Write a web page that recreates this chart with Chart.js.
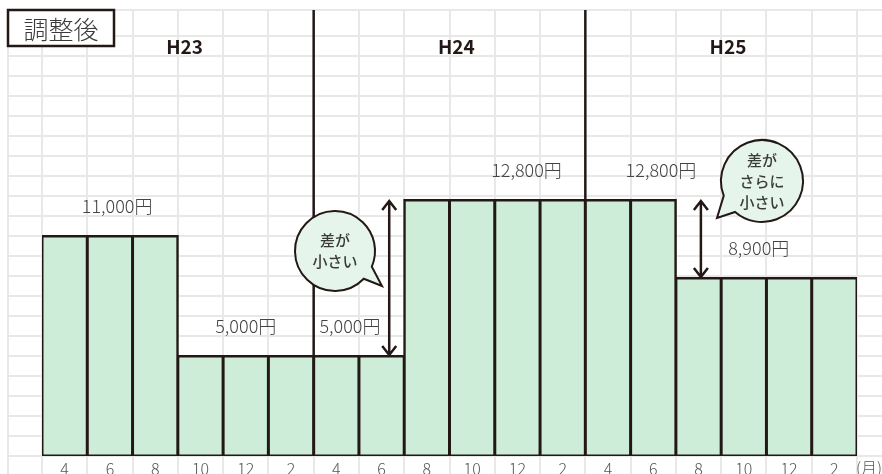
<!DOCTYPE html>
<html>
<head>
<meta charset="utf-8">
<script src="https://cdn.jsdelivr.net/npm/chart.js@4/dist/chart.umd.min.js"></script>
<style>
  html, body { margin: 0; padding: 0; background: #fff; }
  #wrap { width: 882px; height: 474px; }
</style>
</head>
<body>
<div id="wrap"><canvas id="adjustedChart" width="882" height="474"></canvas></div>
<script>
  // ----- data
  const months = ['4', '6', '8', '10', '12', '2', '4', '6', '8', '10', '12', '2', '4', '6', '8', '10', '12', '2'];
  const amounts = [11000, 11000, 11000, 5000, 5000, 5000, 5000, 5000,
    12800, 12800, 12800, 12800, 12800, 12800, 8900, 8900, 8900, 8900];
  const periods = ['H23', 'H24', 'H25'];
  const periodStart = [0, 6, 12];
  const gridStep = 1000;
  const gridMax = 21000;
  const title = '調整後';

  const FONT = '"Noto Sans CJK JP", "Noto Sans", sans-serif';
  const INK = '#231815';
  const TEXT = '#3a3a3a';

  // value labels: category index (fractional) + which amount it shows
  const valueLabels = [
    { at: 1.16, idx: 0 },
    { at: 4.0, idx: 3 },
    { at: 6.3, idx: 7 },
    { at: 10.2, idx: 8 },
    { at: 13.17, idx: 13 },
    { at: 15.33, idx: 14 }
  ];

  function yen(v) {
    return v.toLocaleString('en-US') + '円';
  }

  function bubble(ctx, cx, cy, r, a1, a2, tx, ty, lines, lh) {
    ctx.save();
    ctx.beginPath();
    ctx.arc(cx, cy, r, a1 * Math.PI / 180, a2 * Math.PI / 180);
    ctx.lineTo(tx, ty);
    ctx.closePath();
    ctx.fillStyle = '#e6f5eb';
    ctx.fill();
    ctx.lineWidth = 2;
    ctx.strokeStyle = INK;
    ctx.stroke();
    ctx.fillStyle = TEXT;
    ctx.font = '500 15px ' + FONT;
    ctx.textAlign = 'center';
    ctx.textBaseline = 'middle';
    const y0 = cy - (lines.length - 1) * lh / 2;
    lines.forEach(function(t, i) { ctx.fillText(t, cx, y0 + i * lh); });
    ctx.restore();
  }

  function arrow(ctx, x, y1, y2) {
    ctx.save();
    ctx.strokeStyle = INK;
    ctx.lineWidth = 2.5;
    ctx.beginPath();
    ctx.moveTo(x, y1 + 1);
    ctx.lineTo(x, y2 - 1);
    ctx.moveTo(x - 7, y1 + 10); ctx.lineTo(x, y1 + 1); ctx.lineTo(x + 7, y1 + 10);
    ctx.moveTo(x - 7, y2 - 10); ctx.lineTo(x, y2 - 1); ctx.lineTo(x + 7, y2 - 10);
    ctx.stroke();
    ctx.restore();
  }

  // grid behind the bars, spills outside the plot area like the sheet
  const gridPlugin = {
    id: 'sheetGrid',
    beforeDatasetsDraw(chart) {
      const ctx = chart.ctx;
      const area = chart.chartArea;
      const xs = chart.scales.x;
      const ys = chart.scales.y;
      const w = (area.right - area.left) / months.length;
      const left = area.left - 34;
      ctx.save();
      ctx.strokeStyle = '#e8e8e8';
      ctx.lineWidth = 2;
      ctx.beginPath();
      for (let v = 0; v <= gridMax; v += gridStep) {
        const y = Math.round(ys.getPixelForValue(v));
        ctx.moveTo(left, y); ctx.lineTo(chart.width, y);
      }
      ctx.moveTo(left, area.top); ctx.lineTo(chart.width, area.top);
      ctx.moveTo(left, area.top); ctx.lineTo(left, chart.height);
      for (let i = 0; i <= months.length; i++) {
        const x = Math.round(xs.left + i * w);
        ctx.moveTo(x, area.top); ctx.lineTo(x, chart.height);
      }
      ctx.stroke();
      ctx.restore();
    },
    afterDatasetsDraw(chart) {
      const ctx = chart.ctx;
      const area = chart.chartArea;
      const xs = chart.scales.x;
      const ys = chart.scales.y;
      const w = (area.right - area.left) / months.length;

      // period dividers
      ctx.save();
      ctx.strokeStyle = INK;
      ctx.lineWidth = 2.5;
      ctx.beginPath();
      periodStart.slice(1).forEach(function(s) {
        const x = xs.left + s * w;
        ctx.moveTo(x, area.top); ctx.lineTo(x, ys.getPixelForValue(amounts[s]));
      });
      ctx.stroke();

      // period headings
      ctx.fillStyle = INK;
      ctx.font = 'bold 19px ' + FONT;
      ctx.textAlign = 'center';
      ctx.textBaseline = 'middle';
      periods.forEach(function(p, i) {
        const s = periodStart[i];
        const e = i + 1 < periodStart.length ? periodStart[i + 1] : months.length;
        ctx.fillText(p, xs.getPixelForValue((s + e - 1) / 2 + 0.15), area.top + 37);
      });

      // value labels
      ctx.fillStyle = '#444';
      ctx.font = '300 18px ' + FONT;
      valueLabels.forEach(function(l) {
        ctx.fillText(yen(amounts[l.idx]), xs.getPixelForValue(l.at), ys.getPixelForValue(amounts[l.idx]) - 30);
      });

      // month unit
      ctx.font = '300 16px ' + FONT;
      ctx.fillStyle = '#555';
      ctx.fillText('(月)', area.right + 12, area.bottom + 12);
      ctx.restore();

      // difference arrows
      arrow(ctx, xs.left + 8 * w - 15, ys.getPixelForValue(amounts[8]), ys.getPixelForValue(amounts[7]));
      arrow(ctx, xs.left + 14 * w + 25, ys.getPixelForValue(amounts[13]), ys.getPixelForValue(amounts[14]));

      // speech bubbles
      bubble(ctx, 335, 251, 40, 44, 383, 382, 286, ['差が', '小さい'], 21);
      bubble(ctx, 762, 181, 41, 159, 491, 717, 218, ['差が', 'さらに', '小さい'], 21);

      // title box
      ctx.save();
      ctx.fillStyle = '#fff';
      ctx.fillRect(area.left - 34, area.top, 106, 36);
      ctx.strokeStyle = INK;
      ctx.lineWidth = 2.5;
      ctx.strokeRect(area.left - 34, area.top, 106, 36);
      ctx.fillStyle = TEXT;
      ctx.font = '300 25px ' + FONT;
      ctx.textAlign = 'center';
      ctx.textBaseline = 'middle';
      ctx.fillText(title, area.left - 34 + 53, area.top + 19);
      ctx.restore();
    }
  };

  var ctx = document.getElementById('adjustedChart');

  new Chart(ctx, {
    type: 'bar',
    data: {
      labels: months,
      datasets: [{
        data: amounts,
        backgroundColor: '#cdedd8',
        borderColor: INK,
        borderWidth: 2.5,
        borderSkipped: false,
        inflateAmount: 1,
        barPercentage: 1,
        categoryPercentage: 1
      }]
    },
    options: {
      responsive: false,
      animation: false,
      layout: { padding: { left: 42, right: 25, top: 10, bottom: 0 } },
      plugins: { legend: { display: false }, tooltip: { enabled: false } },
      scales: {
        x: {
          grid: { display: false, drawTicks: false },
          border: { display: false },
          ticks: { color: '#555', font: { size: 16, family: FONT, weight: '300' }, padding: 3, maxRotation: 0, autoSkip: false },
          afterFit: function(scale) { scale.height = 18; }
        },
        y: {
          display: false,
          min: 0,
          max: 22300
        }
      }
    },
    plugins: [gridPlugin]
  });
</script>
</body>
</html>
